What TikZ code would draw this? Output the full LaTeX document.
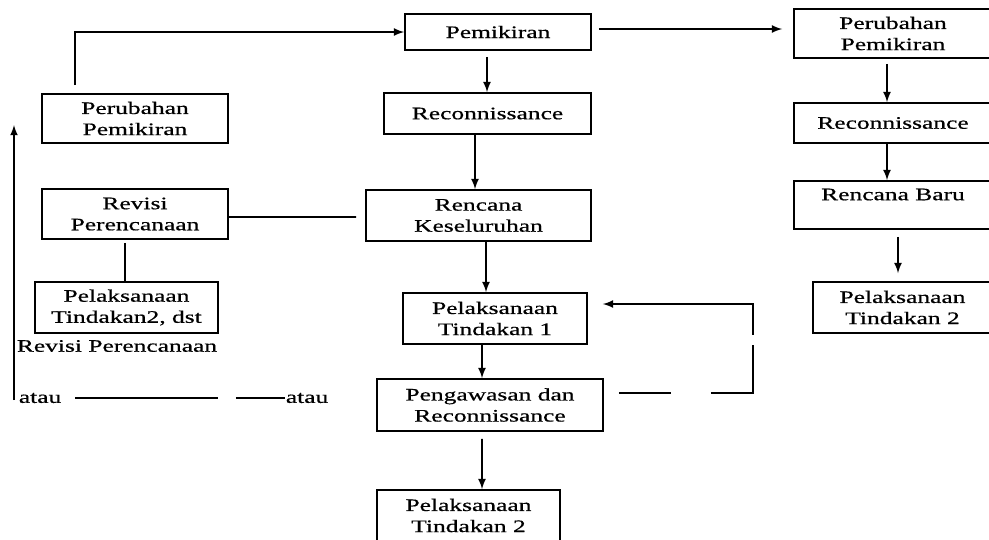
\documentclass[tikz,border=0pt]{standalone}
\usepackage{fontspec}
\setmainfont{Liberation Serif}[FakeStretch=1.45, FakeBold=0.6]
\usepackage{tikz}
\usetikzlibrary{calc}
\usetikzlibrary{arrows}

\begin{document}
\begin{tikzpicture}[x=0.02cm, y=-0.02cm, line width=1pt]
  \tikzset{BOX/.style={draw, align=center, inner sep=0pt} }
  \tikzset{TXT/.style={inner sep=0pt} }

  \useasboundingbox (0,0) rectangle (989,539);

  % tengah
  \node[BOX, minimum width=3.72cm, minimum height=0.72cm] (pem) at (498.0, 32.0) {Pemikiran};
  \node[BOX, minimum width=4.14cm, minimum height=0.82cm] (rec) at (487.5,113.5) {Reconnissance};
  \node[BOX, minimum width=4.50cm, minimum height=1.02cm] (ren) at (478.5,215.5) {Rencana\\Keseluruhan};
  \node[BOX, minimum width=3.68cm, minimum height=1.02cm] (pt1) at (495.0,318.5) {Pelaksanaan\\Tindakan 1};
  \node[BOX, minimum width=4.52cm, minimum height=1.04cm] (pgw) at (490.0,405.0) {Pengawasan dan\\Reconnissance};
  \node[BOX, minimum width=3.66cm, minimum height=1.02cm] (pt2) at (468.5,515.5) {Pelaksanaan\\Tindakan 2};

  % kiri
  \node[BOX, minimum width=3.72cm, minimum height=0.98cm] (lpp) at (135.0,118.5) {Perubahan\\Pemikiran};
  \node[BOX, minimum width=3.72cm, minimum height=1.00cm] (rev) at (135.0,214.0) {Revisi\\Perencanaan};
  \node[BOX, minimum width=3.66cm, minimum height=1.02cm] (ptd) at (126.5,307.5) {Pelaksanaan\\Tindakan2, dst};
  \node[TXT] (lrev) at (117.0,346.0) {Revisi Perencanaan};
  \node[TXT, anchor=west] (atau1) at (18.0,398.0) {atau};
  \node[TXT, anchor=west] (atau2) at (285.0,398.0) {atau};
  \coordinate (lb) at (14.0,400.0);
  \coordinate (lt) at (14.0,125.0);

  % kanan
  \node[BOX, minimum width=3.96cm, minimum height=0.98cm] (rpp) at (893.0, 33.5) {Perubahan\\Pemikiran};
  \node[BOX, minimum width=3.96cm, minimum height=0.80cm] (rrec) at (893.0,123.0) {Reconnissance};
  \node[BOX, minimum width=3.96cm, minimum height=0.96cm] (rbaru) at (893.0,205.0) {Rencana Baru\\~};
  \node[BOX, minimum width=3.58cm, minimum height=1.02cm] (rpt2) at (902.5,307.5) {Pelaksanaan\\Tindakan 2};

  \draw[->,>=latex] ($(pem.south)+(-11,6)$) -- ($(rec.north)+(-0.5,0)$);
  \draw[->,>=latex] ($(rec.south)+(-12.5,0)$) -- ($(ren.north)+(-3.5,0)$);
  \draw[->,>=latex] ($(ren.south)+(7.5,0)$) -- ($(pt1.north)+(-9,0)$);
  \draw[->,>=latex] ($(pt1.south)+(-13,0)$) -- ($(pgw.north)+(-8,0)$);
  \draw[->,>=latex] ($(pgw.south)+(-8,7)$) -- ($(pt2.north)+(13.5,0)$);
  \draw[->,>=latex,dash pattern=on 29.6pt off 22.8pt on 51.2pt off 5.7pt on 120pt]
    ($(pgw.east)+(15,-12)$) -| ($(pt1.east)+(165,-14.5)$) -- ($(pt1.east)+(15,-14.5)$);

  \draw[->,>=latex] ($(lpp.north)+(-60,-8)$) |- (pem.west);
  \draw[- ,>=latex] ($(rev.east)+(0,3)$) -- ($(ren.west)+(-9,1.5)$);
  \draw[- ,>=latex] ($(rev.south)+(-10,3)$) -- ($(ptd.north)+(-1.5,0)$);
  \draw[->,>=latex] (lb) -- (lt);
  \draw[- ,dash pattern=on 81.4pt off 10.2pt on 40pt] ($(atau1.west)+(57,0)$) -- (atau2.west);

  \draw[->,>=latex] ($(pem.east)+(7,-3)$) -- ($(rpp.west)+(-11,-4.5)$);
  \draw[->,>=latex] ($(rpp.south)+(-6,5)$) -- ($(rrec.north)+(-6,0)$);
  \draw[->,>=latex] ($(rrec.south)+(-6,0)$) -- ($(rbaru.north)+(-6,0)$);
  \draw[->,>=latex] ($(rbaru.south)+(5,7)$) -- ($(rpt2.north)+(-4.5,-8)$);
\end{tikzpicture}
\end{document}
